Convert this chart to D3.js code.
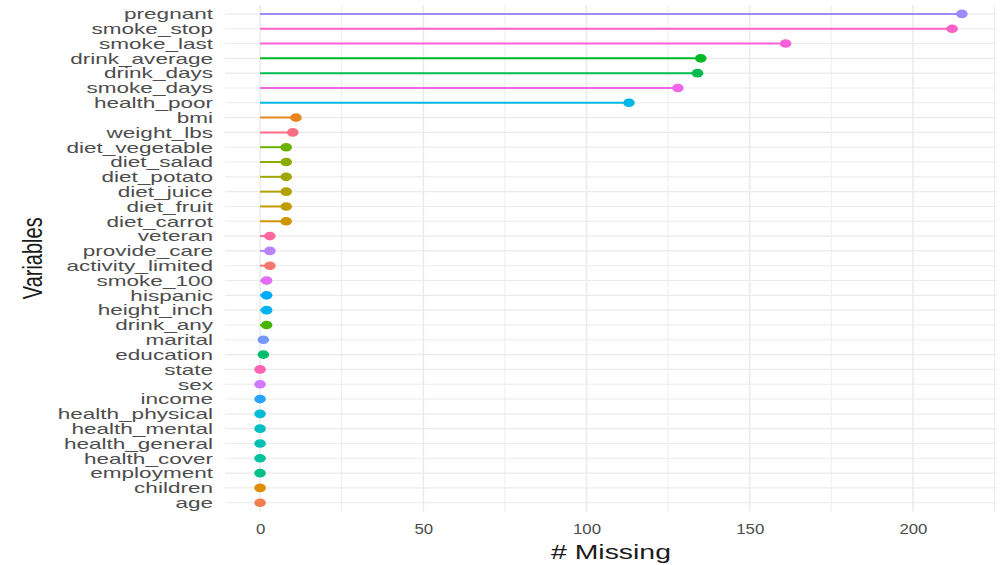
<!DOCTYPE html>
<html>
<head>
<meta charset="utf-8">
<script src="https://cdn.jsdelivr.net/npm/d3@7"></script>
<style>
  html, body { margin: 0; padding: 0; background: #fff; }
  svg { display: block; font-family: "Liberation Sans", Arial, Helvetica, sans-serif; }
</style>
</head>
<body>
<svg id="chart" width="1003" height="565"></svg>
<script>
// ---- data (top to bottom as drawn) ----
const variables = [
  "pregnant","smoke_stop","smoke_last","drink_average","drink_days","smoke_days",
  "health_poor","bmi","weight_lbs","diet_vegetable","diet_salad","diet_potato",
  "diet_juice","diet_fruit","diet_carrot","veteran","provide_care","activity_limited",
  "smoke_100","hispanic","height_inch","drink_any","marital","education","state",
  "sex","income","health_physical","health_mental","health_general","health_cover",
  "employment","children","age"
];
const nMissing = [
  215, 212, 161, 135, 134, 128,
  113, 11, 10, 8, 8, 8,
  8, 8, 8, 3, 3, 3,
  2, 2, 2, 2, 1, 1, 0,
  0, 0, 0, 0, 0, 0,
  0, 0, 0
];
const xTicks = [0, 50, 100, 150, 200];
const xMinorTicks = [25, 75, 125, 175, 225];
const xTitle = "# Missing";
const yTitle = "Variables";

const rows = variables.map((v, i) => ({ variable: v, n: nMissing[i] }));

// ---- layout ----
const svg = d3.select("#chart");
const panel = { left: 225, right: 997, top: 5, bottom: 511.6 };
const stretch = 1.42; // horizontal stretch of the reference image

const maxV = d3.max(nMissing);
const pad = maxV * 0.05;
const x = d3.scaleLinear().domain([-pad, maxV + pad]).range([panel.left, panel.right]);
const y = d3.scalePoint().domain(variables).range([panel.top, panel.bottom]).padding(0.6);

// ggplot-style hue palette (polar CIE-LUV, like R's hcl()) over alphabetical levels
function hclLuv(h, c, l) {
  const Xn = 95.047, Yn = 100, Zn = 108.883;
  const hr = h * Math.PI / 180;
  const U = c * Math.cos(hr), V = c * Math.sin(hr);
  const Y = Yn * (l > 7.999592 ? Math.pow((l + 16) / 116, 3) : l / 903.3);
  const t = Xn + Yn + Zn, xw = Xn / t, yw = Yn / t;
  const uN = 2 * xw / (6 * yw - xw + 1.5), vN = 4.5 * yw / (6 * yw - xw + 1.5);
  const u = U / (13 * l) + uN, v = V / (13 * l) + vN;
  const X = 9 * Y * u / (4 * v);
  const Z = -X / 3 - 5 * Y + 3 * Y / v;
  const lin = [
    3.240479 * X - 1.537150 * Y - 0.498535 * Z,
   -0.969256 * X + 1.875992 * Y + 0.041556 * Z,
    0.055648 * X - 0.204043 * Y + 1.057311 * Z
  ].map(q => q / 100);
  const g = lin.map(q => {
    const s = q <= 0.0031308 ? 12.92 * q : 1.055 * Math.pow(q, 1 / 2.4) - 0.055;
    return Math.round(255 * Math.max(0, Math.min(1, s)));
  });
  return d3.rgb(g[0], g[1], g[2]).formatHex();
}
const levels = variables.slice().sort();
const color = d3.scaleOrdinal()
  .domain(levels)
  .range(levels.map((_, i) => hclLuv(15 + i * 360 / levels.length, 100, 65)));

// ---- grid ----
const grid = svg.append("g");
grid.selectAll("line.minor").data(xMinorTicks).join("line")
  .attr("x1", d => x(d)).attr("x2", d => x(d))
  .attr("y1", panel.top).attr("y2", panel.bottom)
  .attr("stroke", "#EBEBEB").attr("stroke-width", 0.9);
grid.selectAll("line.majx").data(xTicks).join("line")
  .attr("x1", d => x(d)).attr("x2", d => x(d))
  .attr("y1", panel.top).attr("y2", panel.bottom)
  .attr("stroke", "#EBEBEB").attr("stroke-width", 1.6);
grid.selectAll("line.majy").data(variables).join("line")
  .attr("x1", panel.left).attr("x2", panel.right)
  .attr("y1", d => y(d)).attr("y2", d => y(d))
  .attr("stroke", "#EBEBEB").attr("stroke-width", 1.1);

// ---- lollipops ----
const marks = svg.append("g");
marks.selectAll("line.seg").data(rows).join("line")
  .attr("x1", x(0)).attr("x2", d => x(d.n))
  .attr("y1", d => y(d.variable)).attr("y2", d => y(d.variable))
  .attr("stroke", d => color(d.variable))
  .attr("stroke-width", 2);
marks.selectAll("ellipse").data(rows).join("ellipse")
  .attr("cx", d => x(d.n)).attr("cy", d => y(d.variable))
  .attr("rx", 5.8).attr("ry", 4.3)
  .attr("fill", d => color(d.variable));

// ---- y axis labels ----
const yAxis = d3.axisLeft(y).tickSize(0).tickPadding(0);
const yg = svg.append("g").attr("transform", `translate(${panel.left},0)`).call(yAxis);
yg.select(".domain").remove();
yg.selectAll(".tick text")
  .attr("x", null).attr("dy", null)
  .attr("text-anchor", "end")
  .attr("dominant-baseline", "central")
  .attr("transform", `translate(-12,0) scale(1.61,1)`)
  .attr("fill", "#4D4D4D")
  .style("font-size", "14px")
  .style("font-family", "'Liberation Sans', Arial, sans-serif");

// ---- x axis labels ----
const xAxis = d3.axisBottom(x).tickValues(xTicks).tickSize(0).tickPadding(0);
const xg = svg.append("g").attr("transform", `translate(0,${panel.bottom})`).call(xAxis);
xg.select(".domain").remove();
xg.selectAll(".tick text")
  .attr("y", null).attr("dy", null)
  .attr("text-anchor", "middle")
  .attr("transform", `translate(0,22) scale(1.2,1)`)
  .attr("fill", "#4D4D4D")
  .style("font-size", "14px")
  .style("font-family", "'Liberation Sans', Arial, sans-serif");

// ---- titles ----
svg.append("text")
  .attr("transform", `translate(${(panel.left + panel.right) / 2},559) scale(${stretch},1)`)
  .attr("text-anchor", "middle")
  .attr("fill", "#1A1A1A")
  .style("font-size", "20px")
  .text(xTitle);

svg.append("text")
  .attr("transform", `translate(42,${(panel.top + panel.bottom) / 2}) scale(${stretch},1) rotate(-90)`)
  .attr("text-anchor", "middle")
  .attr("fill", "#1A1A1A")
  .style("font-size", "20px")
  .text(yTitle);
</script>
</body>
</html>
